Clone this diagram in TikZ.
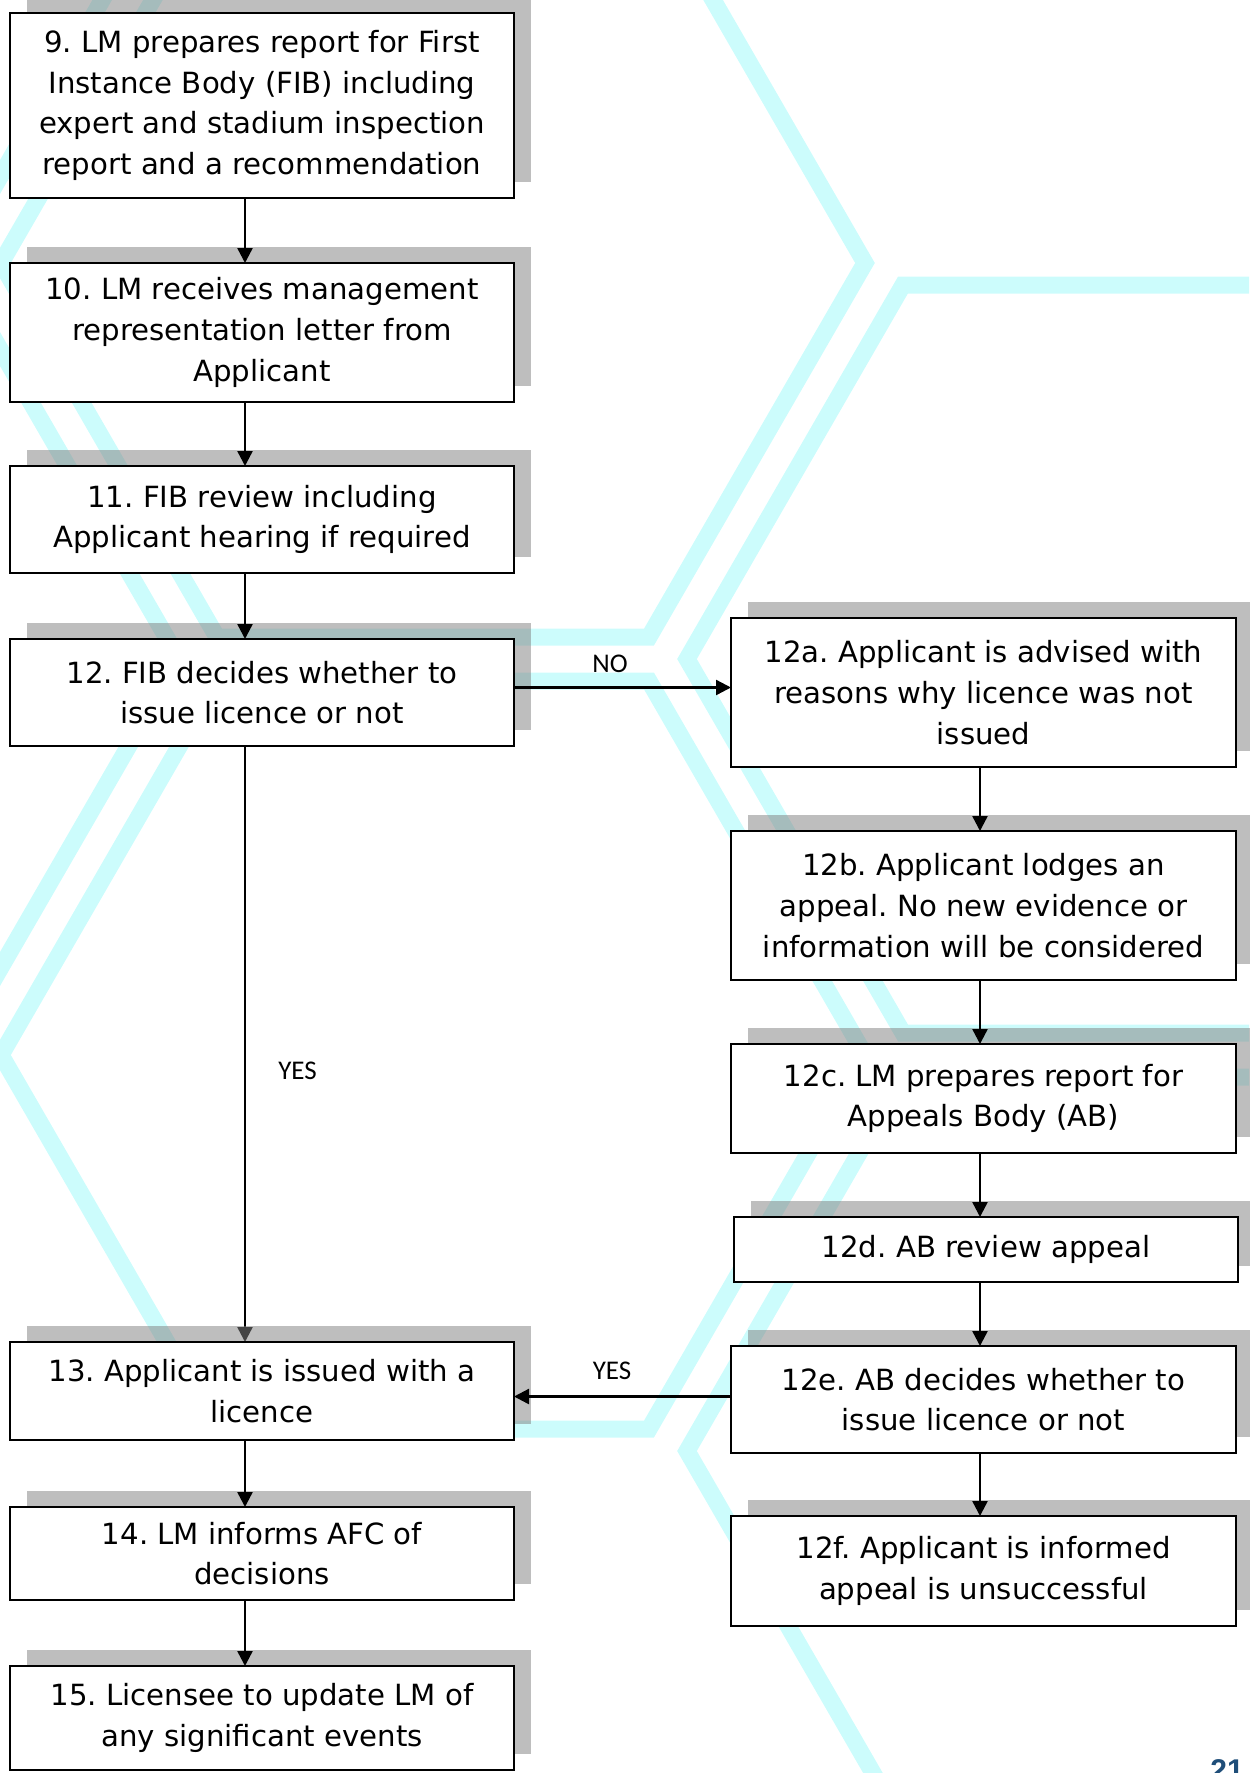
\documentclass[tikz,border=0pt]{standalone}
\usepackage{fontspec}
\setmainfont{DejaVu Sans}
\newfontfamily\lblfont{Carlito}
\newfontfamily\pgnumfont{Liberation Sans}
\usetikzlibrary{arrows.meta}
\pgfdeclarelayer{bg}
\pgfdeclarelayer{low}
\pgfdeclarelayer{shade}
\pgfsetlayers{bg,low,shade,main}
\definecolor{hexcyan}{RGB}{204,252,252}
\definecolor{shadegray}{RGB}{131,131,131}
\definecolor{pgblue}{RGB}{31,78,121}
\newcommand\shadowof[1]{\fill[shadegray, opacity=0.52] ([shift={(16.5,-16.5)}]#1.south west) rectangle ([shift={(16.5,-16.5)}]#1.north east);}
\frenchspacing
\begin{document}
\begin{tikzpicture}[x=0.5pt,y=-0.5pt,
  box/.style={draw=black, fill=white, line width=1.2pt, rectangle, inner sep=0pt, outer sep=0pt,
    minimum width=252pt, align=center, font=\frenchspacing\fontsize{14.6pt}{20.35pt}\selectfont},
  arr/.style={line width=1.2pt, -{Triangle[length=7.5pt,width=7.5pt]}},
  lbl/.style={inner sep=0pt, font=\lblfont\fontsize{13.5pt}{16pt}\selectfont},
  hexline/.style={draw=hexcyan, line width=8.5pt, line join=miter},
]
\useasboundingbox (0,0) rectangle (1249,1773);

% background hexagons
\begin{pgfonlayer}{bg}
\begin{scope}
\clip (0,0) rectangle (1249,1773);
\foreach \cx/\cy in {-253/-133, -253/659, 433/263, 433/1055, 1119/659, 1119/1451}
  \draw[hexline] (\cx-432,\cy) -- ++(216,-374) -- ++(432,0) -- ++(216,374) -- ++(-216,374) -- ++(-432,0) -- cycle;
\end{scope}
\end{pgfonlayer}

\coordinate (lx) at (245,0);
\coordinate (rx) at (980,0);

% left column
\node[box, minimum height=92.5pt] (b9) at (262,105.5) {9. LM prepares report for First\\Instance Body (FIB) including\\expert and stadium inspection\\report and a recommendation};
\node[box, minimum height=69.5pt] (b10) at (262,332.5) {10. LM receives management\\representation letter from\\Applicant};
\node[box, minimum height=53.5pt] (b11) at (262,519.5) {11. FIB review including\\Applicant hearing if required};
\node[box, minimum height=53.5pt] (b12) at (262,692.5) {12. FIB decides whether to\\issue licence or not};
\node[box, minimum height=49pt] (b13) at (262,1391) {13. Applicant is issued with a\\licence};
\node[box, minimum height=46.5pt] (b14) at (262,1553.5) {14. LM informs AFC of\\decisions};
\node[box, minimum height=52pt] (b15) at (262,1718) {15. Licensee to update LM of\\any significant events};

% right column
\node[box, minimum width=252.5pt, minimum height=74.5pt] (b12a) at (983.5,692.5) {12a. Applicant is advised with\\reasons why licence was not\\issued};
\node[box, minimum width=252.5pt, minimum height=74.5pt] (b12b) at (983.5,905.5) {12b. Applicant lodges an\\appeal. No new evidence or\\information will be considered};
\node[box, minimum width=252.5pt, minimum height=54.5pt] (b12c) at (983.5,1098.5) {12c. LM prepares report for\\Appeals Body (AB)};
\node[box, minimum width=252pt, minimum height=32.5pt] (b12d) at (986,1249.5) {12d. AB review appeal};
\node[box, minimum width=252.5pt, minimum height=53.5pt] (b12e) at (983.5,1399.5) {12e. AB decides whether to\\issue licence or not};
\node[box, minimum width=252.5pt, minimum height=55pt] (b12f) at (983.5,1571) {12f. Applicant is informed\\appeal is unsuccessful};

% shadows
\begin{pgfonlayer}{shade}
\foreach \n in {b9,b10,b11,b12,b13,b14,b15,b12a,b12b,b12c,b12d,b12e,b12f}
  {\shadowof{\n}}
\end{pgfonlayer}

% connector lying under the shadow of box 13
\begin{pgfonlayer}{low}
\draw[arr] (b12.south -| lx) -- (b13.north -| lx);
\end{pgfonlayer}

% connectors
\draw[arr] (b9.south -| lx) -- (b10.north -| lx);
\draw[arr] (b10.south -| lx) -- (b11.north -| lx);
\draw[arr] (b11.south -| lx) -- (b12.north -| lx);
\draw[arr] (b13.south -| lx) -- (b14.north -| lx);
\draw[arr] (b14.south -| lx) -- (b15.north -| lx);
\draw[arr] ([yshift=2.5pt]b12.east) -- ([yshift=2.5pt]b12a.west);
\draw[arr] (b12a.south -| rx) -- (b12b.north -| rx);
\draw[arr] (b12b.south -| rx) -- (b12c.north -| rx);
\draw[arr] (b12c.south -| rx) -- (b12d.north -| rx);
\draw[arr] (b12d.south -| rx) -- (b12e.north -| rx);
\draw[arr] (b12e.south -| rx) -- (b12f.north -| rx);
\draw[arr] ([yshift=1.5pt]b12e.west) -- ([yshift=1.5pt]b12e.west -| b13.east);

% labels
\node[lbl] (no) at (610,664) {NO};
\node[lbl] (yes1) at (297.5,1071) {YES};
\node[lbl] (yes2) at (612,1371) {YES};

% page number (cut by the page edge, as in the reference)
\node[anchor=base, inner sep=0pt, text=pgblue, font=\pgnumfont\bfseries\fontsize{15pt}{18pt}\selectfont] (pg) at (1227,1780) {21};
\end{tikzpicture}
\end{document}
